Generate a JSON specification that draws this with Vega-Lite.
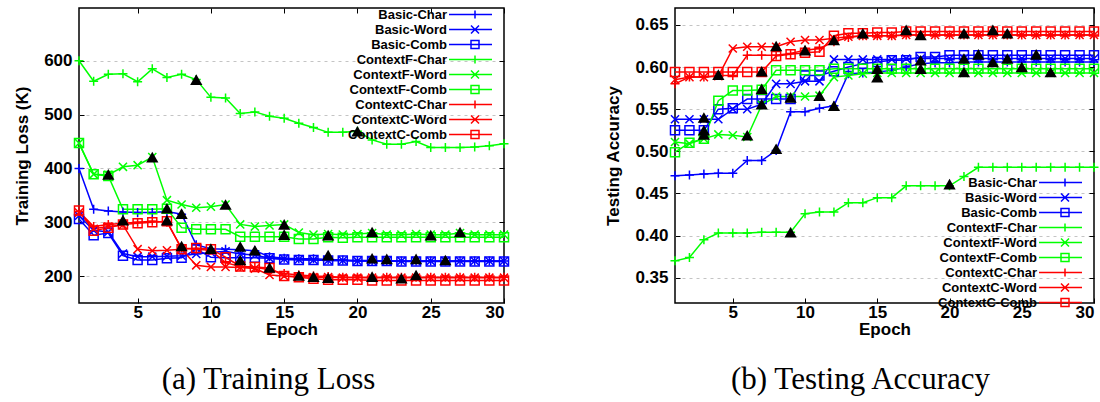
{
"$schema":"https://vega.github.io/schema/vega-lite/v6.json",
"background":"white",
"padding":{"left":12,"top":6,"right":0,"bottom":0},
"spacing":91,
"config":{
 "view":{"stroke":"black","strokeWidth":1.5},
 "axis":{"domain":false,"labelFont":"Liberation Sans","labelFontWeight":"bold","labelFontSize":17,"labelColor":"#000","titleFont":"Liberation Sans","titleFontWeight":"bold","titleFontSize":17,"titleColor":"#000","tickColor":"#000","tickWidth":1,"gridColor":"#c4c4c4","gridDash":[3,4],"gridWidth":1},
 "legend":{"title":null,"labelFont":"Liberation Sans","labelFontWeight":"bold","labelFontSize":13,"labelColor":"#000","symbolSize":100,"symbolStrokeWidth":1.5,"rowPadding":0,"labelLimit":300}
},
"datasets":{
"loss":[
{"s":"Basic-Char","m":"Char","e":1,"v":400},{"s":"Basic-Char","m":"Char","e":2,"v":324},{"s":"Basic-Char","m":"Char","e":3,"v":321},{"s":"Basic-Char","m":"Char","e":4,"v":319},{"s":"Basic-Char","m":"Char","e":5,"v":318},{"s":"Basic-Char","m":"Char","e":6,"v":318},{"s":"Basic-Char","m":"Char","e":7,"v":320},{"s":"Basic-Char","m":"Char","e":8,"v":315},{"s":"Basic-Char","m":"Char","e":9,"v":258},{"s":"Basic-Char","m":"Char","e":10,"v":251},{"s":"Basic-Char","m":"Char","e":11,"v":250},{"s":"Basic-Char","m":"Char","e":12,"v":249},{"s":"Basic-Char","m":"Char","e":13,"v":247},{"s":"Basic-Char","m":"Char","e":14,"v":236},{"s":"Basic-Char","m":"Char","e":15,"v":233},{"s":"Basic-Char","m":"Char","e":16,"v":232},{"s":"Basic-Char","m":"Char","e":17,"v":232},{"s":"Basic-Char","m":"Char","e":18,"v":231},{"s":"Basic-Char","m":"Char","e":19,"v":230},{"s":"Basic-Char","m":"Char","e":20,"v":229},{"s":"Basic-Char","m":"Char","e":21,"v":229},{"s":"Basic-Char","m":"Char","e":22,"v":228},{"s":"Basic-Char","m":"Char","e":23,"v":228},{"s":"Basic-Char","m":"Char","e":24,"v":228},{"s":"Basic-Char","m":"Char","e":25,"v":228},{"s":"Basic-Char","m":"Char","e":26,"v":228},{"s":"Basic-Char","m":"Char","e":27,"v":228},{"s":"Basic-Char","m":"Char","e":28,"v":228},{"s":"Basic-Char","m":"Char","e":29,"v":228},{"s":"Basic-Char","m":"Char","e":30,"v":228},
{"s":"Basic-Word","m":"Word","e":1,"v":312},{"s":"Basic-Word","m":"Word","e":2,"v":285},{"s":"Basic-Word","m":"Word","e":3,"v":282},{"s":"Basic-Word","m":"Word","e":4,"v":242},{"s":"Basic-Word","m":"Word","e":5,"v":236},{"s":"Basic-Word","m":"Word","e":6,"v":236},{"s":"Basic-Word","m":"Word","e":7,"v":237},{"s":"Basic-Word","m":"Word","e":8,"v":238},{"s":"Basic-Word","m":"Word","e":9,"v":241},{"s":"Basic-Word","m":"Word","e":10,"v":244},{"s":"Basic-Word","m":"Word","e":11,"v":246},{"s":"Basic-Word","m":"Word","e":12,"v":241},{"s":"Basic-Word","m":"Word","e":13,"v":239},{"s":"Basic-Word","m":"Word","e":14,"v":233},{"s":"Basic-Word","m":"Word","e":15,"v":232},{"s":"Basic-Word","m":"Word","e":16,"v":231},{"s":"Basic-Word","m":"Word","e":17,"v":230},{"s":"Basic-Word","m":"Word","e":18,"v":229},{"s":"Basic-Word","m":"Word","e":19,"v":229},{"s":"Basic-Word","m":"Word","e":20,"v":228},{"s":"Basic-Word","m":"Word","e":21,"v":228},{"s":"Basic-Word","m":"Word","e":22,"v":228},{"s":"Basic-Word","m":"Word","e":23,"v":228},{"s":"Basic-Word","m":"Word","e":24,"v":228},{"s":"Basic-Word","m":"Word","e":25,"v":228},{"s":"Basic-Word","m":"Word","e":26,"v":228},{"s":"Basic-Word","m":"Word","e":27,"v":228},{"s":"Basic-Word","m":"Word","e":28,"v":228},{"s":"Basic-Word","m":"Word","e":29,"v":228},{"s":"Basic-Word","m":"Word","e":30,"v":228},
{"s":"Basic-Comb","m":"Comb","e":1,"v":306},{"s":"Basic-Comb","m":"Comb","e":2,"v":276},{"s":"Basic-Comb","m":"Comb","e":3,"v":280},{"s":"Basic-Comb","m":"Comb","e":4,"v":238},{"s":"Basic-Comb","m":"Comb","e":5,"v":230},{"s":"Basic-Comb","m":"Comb","e":6,"v":230},{"s":"Basic-Comb","m":"Comb","e":7,"v":233},{"s":"Basic-Comb","m":"Comb","e":8,"v":234},{"s":"Basic-Comb","m":"Comb","e":9,"v":250},{"s":"Basic-Comb","m":"Comb","e":10,"v":235},{"s":"Basic-Comb","m":"Comb","e":11,"v":234},{"s":"Basic-Comb","m":"Comb","e":12,"v":234},{"s":"Basic-Comb","m":"Comb","e":13,"v":234},{"s":"Basic-Comb","m":"Comb","e":14,"v":233},{"s":"Basic-Comb","m":"Comb","e":15,"v":231},{"s":"Basic-Comb","m":"Comb","e":16,"v":230},{"s":"Basic-Comb","m":"Comb","e":17,"v":230},{"s":"Basic-Comb","m":"Comb","e":18,"v":229},{"s":"Basic-Comb","m":"Comb","e":19,"v":229},{"s":"Basic-Comb","m":"Comb","e":20,"v":228},{"s":"Basic-Comb","m":"Comb","e":21,"v":228},{"s":"Basic-Comb","m":"Comb","e":22,"v":228},{"s":"Basic-Comb","m":"Comb","e":23,"v":227},{"s":"Basic-Comb","m":"Comb","e":24,"v":227},{"s":"Basic-Comb","m":"Comb","e":25,"v":227},{"s":"Basic-Comb","m":"Comb","e":26,"v":227},{"s":"Basic-Comb","m":"Comb","e":27,"v":227},{"s":"Basic-Comb","m":"Comb","e":28,"v":227},{"s":"Basic-Comb","m":"Comb","e":29,"v":227},{"s":"Basic-Comb","m":"Comb","e":30,"v":227},
{"s":"ContextF-Char","m":"Char","e":1,"v":600},{"s":"ContextF-Char","m":"Char","e":2,"v":562},{"s":"ContextF-Char","m":"Char","e":3,"v":575},{"s":"ContextF-Char","m":"Char","e":4,"v":576},{"s":"ContextF-Char","m":"Char","e":5,"v":561},{"s":"ContextF-Char","m":"Char","e":6,"v":585},{"s":"ContextF-Char","m":"Char","e":7,"v":569},{"s":"ContextF-Char","m":"Char","e":8,"v":575},{"s":"ContextF-Char","m":"Char","e":9,"v":565},{"s":"ContextF-Char","m":"Char","e":10,"v":532},{"s":"ContextF-Char","m":"Char","e":11,"v":531},{"s":"ContextF-Char","m":"Char","e":12,"v":502},{"s":"ContextF-Char","m":"Char","e":13,"v":505},{"s":"ContextF-Char","m":"Char","e":14,"v":497},{"s":"ContextF-Char","m":"Char","e":15,"v":493},{"s":"ContextF-Char","m":"Char","e":16,"v":484},{"s":"ContextF-Char","m":"Char","e":17,"v":476},{"s":"ContextF-Char","m":"Char","e":18,"v":467},{"s":"ContextF-Char","m":"Char","e":19,"v":467},{"s":"ContextF-Char","m":"Char","e":20,"v":469},{"s":"ContextF-Char","m":"Char","e":21,"v":453},{"s":"ContextF-Char","m":"Char","e":22,"v":445},{"s":"ContextF-Char","m":"Char","e":23,"v":445},{"s":"ContextF-Char","m":"Char","e":24,"v":450},{"s":"ContextF-Char","m":"Char","e":25,"v":439},{"s":"ContextF-Char","m":"Char","e":26,"v":439},{"s":"ContextF-Char","m":"Char","e":27,"v":439},{"s":"ContextF-Char","m":"Char","e":28,"v":440},{"s":"ContextF-Char","m":"Char","e":29,"v":442},{"s":"ContextF-Char","m":"Char","e":30,"v":446},
{"s":"ContextF-Word","m":"Word","e":1,"v":447},{"s":"ContextF-Word","m":"Word","e":2,"v":389},{"s":"ContextF-Word","m":"Word","e":3,"v":388},{"s":"ContextF-Word","m":"Word","e":4,"v":403},{"s":"ContextF-Word","m":"Word","e":5,"v":406},{"s":"ContextF-Word","m":"Word","e":6,"v":421},{"s":"ContextF-Word","m":"Word","e":7,"v":341},{"s":"ContextF-Word","m":"Word","e":8,"v":333},{"s":"ContextF-Word","m":"Word","e":9,"v":327},{"s":"ContextF-Word","m":"Word","e":10,"v":329},{"s":"ContextF-Word","m":"Word","e":11,"v":333},{"s":"ContextF-Word","m":"Word","e":12,"v":296},{"s":"ContextF-Word","m":"Word","e":13,"v":292},{"s":"ContextF-Word","m":"Word","e":14,"v":294},{"s":"ContextF-Word","m":"Word","e":15,"v":296},{"s":"ContextF-Word","m":"Word","e":16,"v":281},{"s":"ContextF-Word","m":"Word","e":17,"v":277},{"s":"ContextF-Word","m":"Word","e":18,"v":278},{"s":"ContextF-Word","m":"Word","e":19,"v":277},{"s":"ContextF-Word","m":"Word","e":20,"v":278},{"s":"ContextF-Word","m":"Word","e":21,"v":280},{"s":"ContextF-Word","m":"Word","e":22,"v":277},{"s":"ContextF-Word","m":"Word","e":23,"v":277},{"s":"ContextF-Word","m":"Word","e":24,"v":278},{"s":"ContextF-Word","m":"Word","e":25,"v":277},{"s":"ContextF-Word","m":"Word","e":26,"v":277},{"s":"ContextF-Word","m":"Word","e":27,"v":280},{"s":"ContextF-Word","m":"Word","e":28,"v":277},{"s":"ContextF-Word","m":"Word","e":29,"v":277},{"s":"ContextF-Word","m":"Word","e":30,"v":277},
{"s":"ContextF-Comb","m":"Comb","e":1,"v":447},{"s":"ContextF-Comb","m":"Comb","e":2,"v":389},{"s":"ContextF-Comb","m":"Comb","e":3,"v":386},{"s":"ContextF-Comb","m":"Comb","e":4,"v":324},{"s":"ContextF-Comb","m":"Comb","e":5,"v":324},{"s":"ContextF-Comb","m":"Comb","e":6,"v":324},{"s":"ContextF-Comb","m":"Comb","e":7,"v":325},{"s":"ContextF-Comb","m":"Comb","e":8,"v":290},{"s":"ContextF-Comb","m":"Comb","e":9,"v":287},{"s":"ContextF-Comb","m":"Comb","e":10,"v":287},{"s":"ContextF-Comb","m":"Comb","e":11,"v":287},{"s":"ContextF-Comb","m":"Comb","e":12,"v":273},{"s":"ContextF-Comb","m":"Comb","e":13,"v":273},{"s":"ContextF-Comb","m":"Comb","e":14,"v":273},{"s":"ContextF-Comb","m":"Comb","e":15,"v":273},{"s":"ContextF-Comb","m":"Comb","e":16,"v":269},{"s":"ContextF-Comb","m":"Comb","e":17,"v":269},{"s":"ContextF-Comb","m":"Comb","e":18,"v":272},{"s":"ContextF-Comb","m":"Comb","e":19,"v":271},{"s":"ContextF-Comb","m":"Comb","e":20,"v":272},{"s":"ContextF-Comb","m":"Comb","e":21,"v":272},{"s":"ContextF-Comb","m":"Comb","e":22,"v":272},{"s":"ContextF-Comb","m":"Comb","e":23,"v":272},{"s":"ContextF-Comb","m":"Comb","e":24,"v":272},{"s":"ContextF-Comb","m":"Comb","e":25,"v":272},{"s":"ContextF-Comb","m":"Comb","e":26,"v":272},{"s":"ContextF-Comb","m":"Comb","e":27,"v":272},{"s":"ContextF-Comb","m":"Comb","e":28,"v":272},{"s":"ContextF-Comb","m":"Comb","e":29,"v":272},{"s":"ContextF-Comb","m":"Comb","e":30,"v":272},
{"s":"ContextC-Char","m":"Char","e":1,"v":320},{"s":"ContextC-Char","m":"Char","e":2,"v":292},{"s":"ContextC-Char","m":"Char","e":3,"v":296},{"s":"ContextC-Char","m":"Char","e":4,"v":298},{"s":"ContextC-Char","m":"Char","e":5,"v":300},{"s":"ContextC-Char","m":"Char","e":6,"v":302},{"s":"ContextC-Char","m":"Char","e":7,"v":300},{"s":"ContextC-Char","m":"Char","e":8,"v":252},{"s":"ContextC-Char","m":"Char","e":9,"v":250},{"s":"ContextC-Char","m":"Char","e":10,"v":248},{"s":"ContextC-Char","m":"Char","e":11,"v":225},{"s":"ContextC-Char","m":"Char","e":12,"v":218},{"s":"ContextC-Char","m":"Char","e":13,"v":216},{"s":"ContextC-Char","m":"Char","e":14,"v":212},{"s":"ContextC-Char","m":"Char","e":15,"v":205},{"s":"ContextC-Char","m":"Char","e":16,"v":202},{"s":"ContextC-Char","m":"Char","e":17,"v":200},{"s":"ContextC-Char","m":"Char","e":18,"v":199},{"s":"ContextC-Char","m":"Char","e":19,"v":198},{"s":"ContextC-Char","m":"Char","e":20,"v":198},{"s":"ContextC-Char","m":"Char","e":21,"v":198},{"s":"ContextC-Char","m":"Char","e":22,"v":198},{"s":"ContextC-Char","m":"Char","e":23,"v":198},{"s":"ContextC-Char","m":"Char","e":24,"v":198},{"s":"ContextC-Char","m":"Char","e":25,"v":198},{"s":"ContextC-Char","m":"Char","e":26,"v":198},{"s":"ContextC-Char","m":"Char","e":27,"v":198},{"s":"ContextC-Char","m":"Char","e":28,"v":198},{"s":"ContextC-Char","m":"Char","e":29,"v":198},{"s":"ContextC-Char","m":"Char","e":30,"v":198},
{"s":"ContextC-Word","m":"Word","e":1,"v":318},{"s":"ContextC-Word","m":"Word","e":2,"v":288},{"s":"ContextC-Word","m":"Word","e":3,"v":292},{"s":"ContextC-Word","m":"Word","e":4,"v":295},{"s":"ContextC-Word","m":"Word","e":5,"v":250},{"s":"ContextC-Word","m":"Word","e":6,"v":247},{"s":"ContextC-Word","m":"Word","e":7,"v":248},{"s":"ContextC-Word","m":"Word","e":8,"v":250},{"s":"ContextC-Word","m":"Word","e":9,"v":220},{"s":"ContextC-Word","m":"Word","e":10,"v":217},{"s":"ContextC-Word","m":"Word","e":11,"v":217},{"s":"ContextC-Word","m":"Word","e":12,"v":216},{"s":"ContextC-Word","m":"Word","e":13,"v":214},{"s":"ContextC-Word","m":"Word","e":14,"v":202},{"s":"ContextC-Word","m":"Word","e":15,"v":200},{"s":"ContextC-Word","m":"Word","e":16,"v":199},{"s":"ContextC-Word","m":"Word","e":17,"v":198},{"s":"ContextC-Word","m":"Word","e":18,"v":198},{"s":"ContextC-Word","m":"Word","e":19,"v":197},{"s":"ContextC-Word","m":"Word","e":20,"v":197},{"s":"ContextC-Word","m":"Word","e":21,"v":197},{"s":"ContextC-Word","m":"Word","e":22,"v":197},{"s":"ContextC-Word","m":"Word","e":23,"v":197},{"s":"ContextC-Word","m":"Word","e":24,"v":197},{"s":"ContextC-Word","m":"Word","e":25,"v":197},{"s":"ContextC-Word","m":"Word","e":26,"v":197},{"s":"ContextC-Word","m":"Word","e":27,"v":197},{"s":"ContextC-Word","m":"Word","e":28,"v":197},{"s":"ContextC-Word","m":"Word","e":29,"v":197},{"s":"ContextC-Word","m":"Word","e":30,"v":197},
{"s":"ContextC-Comb","m":"Comb","e":1,"v":322},{"s":"ContextC-Comb","m":"Comb","e":2,"v":284},{"s":"ContextC-Comb","m":"Comb","e":3,"v":290},{"s":"ContextC-Comb","m":"Comb","e":4,"v":296},{"s":"ContextC-Comb","m":"Comb","e":5,"v":298},{"s":"ContextC-Comb","m":"Comb","e":6,"v":300},{"s":"ContextC-Comb","m":"Comb","e":7,"v":302},{"s":"ContextC-Comb","m":"Comb","e":8,"v":250},{"s":"ContextC-Comb","m":"Comb","e":9,"v":252},{"s":"ContextC-Comb","m":"Comb","e":10,"v":250},{"s":"ContextC-Comb","m":"Comb","e":11,"v":235},{"s":"ContextC-Comb","m":"Comb","e":12,"v":218},{"s":"ContextC-Comb","m":"Comb","e":13,"v":217},{"s":"ContextC-Comb","m":"Comb","e":14,"v":215},{"s":"ContextC-Comb","m":"Comb","e":15,"v":200},{"s":"ContextC-Comb","m":"Comb","e":16,"v":198},{"s":"ContextC-Comb","m":"Comb","e":17,"v":195},{"s":"ContextC-Comb","m":"Comb","e":18,"v":193},{"s":"ContextC-Comb","m":"Comb","e":19,"v":193},{"s":"ContextC-Comb","m":"Comb","e":20,"v":193},{"s":"ContextC-Comb","m":"Comb","e":21,"v":192},{"s":"ContextC-Comb","m":"Comb","e":22,"v":192},{"s":"ContextC-Comb","m":"Comb","e":23,"v":192},{"s":"ContextC-Comb","m":"Comb","e":24,"v":192},{"s":"ContextC-Comb","m":"Comb","e":25,"v":192},{"s":"ContextC-Comb","m":"Comb","e":26,"v":192},{"s":"ContextC-Comb","m":"Comb","e":27,"v":192},{"s":"ContextC-Comb","m":"Comb","e":28,"v":192},{"s":"ContextC-Comb","m":"Comb","e":29,"v":192},{"s":"ContextC-Comb","m":"Comb","e":30,"v":192}
],
"acc":[
{"s":"Basic-Char","m":"Char","e":1,"v":0.471},{"s":"Basic-Char","m":"Char","e":2,"v":0.472},{"s":"Basic-Char","m":"Char","e":3,"v":0.473},{"s":"Basic-Char","m":"Char","e":4,"v":0.474},{"s":"Basic-Char","m":"Char","e":5,"v":0.474},{"s":"Basic-Char","m":"Char","e":6,"v":0.489},{"s":"Basic-Char","m":"Char","e":7,"v":0.489},{"s":"Basic-Char","m":"Char","e":8,"v":0.501},{"s":"Basic-Char","m":"Char","e":9,"v":0.547},{"s":"Basic-Char","m":"Char","e":10,"v":0.547},{"s":"Basic-Char","m":"Char","e":11,"v":0.551},{"s":"Basic-Char","m":"Char","e":12,"v":0.554},{"s":"Basic-Char","m":"Char","e":13,"v":0.592},{"s":"Basic-Char","m":"Char","e":14,"v":0.593},{"s":"Basic-Char","m":"Char","e":15,"v":0.594},{"s":"Basic-Char","m":"Char","e":16,"v":0.596},{"s":"Basic-Char","m":"Char","e":17,"v":0.6},{"s":"Basic-Char","m":"Char","e":18,"v":0.604},{"s":"Basic-Char","m":"Char","e":19,"v":0.605},{"s":"Basic-Char","m":"Char","e":20,"v":0.605},{"s":"Basic-Char","m":"Char","e":21,"v":0.606},{"s":"Basic-Char","m":"Char","e":22,"v":0.606},{"s":"Basic-Char","m":"Char","e":23,"v":0.606},{"s":"Basic-Char","m":"Char","e":24,"v":0.606},{"s":"Basic-Char","m":"Char","e":25,"v":0.606},{"s":"Basic-Char","m":"Char","e":26,"v":0.606},{"s":"Basic-Char","m":"Char","e":27,"v":0.606},{"s":"Basic-Char","m":"Char","e":28,"v":0.606},{"s":"Basic-Char","m":"Char","e":29,"v":0.606},{"s":"Basic-Char","m":"Char","e":30,"v":0.606},
{"s":"Basic-Word","m":"Word","e":1,"v":0.538},{"s":"Basic-Word","m":"Word","e":2,"v":0.538},{"s":"Basic-Word","m":"Word","e":3,"v":0.538},{"s":"Basic-Word","m":"Word","e":4,"v":0.538},{"s":"Basic-Word","m":"Word","e":5,"v":0.55},{"s":"Basic-Word","m":"Word","e":6,"v":0.55},{"s":"Basic-Word","m":"Word","e":7,"v":0.556},{"s":"Basic-Word","m":"Word","e":8,"v":0.58},{"s":"Basic-Word","m":"Word","e":9,"v":0.58},{"s":"Basic-Word","m":"Word","e":10,"v":0.583},{"s":"Basic-Word","m":"Word","e":11,"v":0.583},{"s":"Basic-Word","m":"Word","e":12,"v":0.609},{"s":"Basic-Word","m":"Word","e":13,"v":0.609},{"s":"Basic-Word","m":"Word","e":14,"v":0.609},{"s":"Basic-Word","m":"Word","e":15,"v":0.609},{"s":"Basic-Word","m":"Word","e":16,"v":0.609},{"s":"Basic-Word","m":"Word","e":17,"v":0.61},{"s":"Basic-Word","m":"Word","e":18,"v":0.61},{"s":"Basic-Word","m":"Word","e":19,"v":0.61},{"s":"Basic-Word","m":"Word","e":20,"v":0.61},{"s":"Basic-Word","m":"Word","e":21,"v":0.61},{"s":"Basic-Word","m":"Word","e":22,"v":0.61},{"s":"Basic-Word","m":"Word","e":23,"v":0.61},{"s":"Basic-Word","m":"Word","e":24,"v":0.61},{"s":"Basic-Word","m":"Word","e":25,"v":0.61},{"s":"Basic-Word","m":"Word","e":26,"v":0.61},{"s":"Basic-Word","m":"Word","e":27,"v":0.61},{"s":"Basic-Word","m":"Word","e":28,"v":0.61},{"s":"Basic-Word","m":"Word","e":29,"v":0.61},{"s":"Basic-Word","m":"Word","e":30,"v":0.61},
{"s":"Basic-Comb","m":"Comb","e":1,"v":0.525},{"s":"Basic-Comb","m":"Comb","e":2,"v":0.525},{"s":"Basic-Comb","m":"Comb","e":3,"v":0.525},{"s":"Basic-Comb","m":"Comb","e":4,"v":0.55},{"s":"Basic-Comb","m":"Comb","e":5,"v":0.551},{"s":"Basic-Comb","m":"Comb","e":6,"v":0.562},{"s":"Basic-Comb","m":"Comb","e":7,"v":0.562},{"s":"Basic-Comb","m":"Comb","e":8,"v":0.562},{"s":"Basic-Comb","m":"Comb","e":9,"v":0.562},{"s":"Basic-Comb","m":"Comb","e":10,"v":0.59},{"s":"Basic-Comb","m":"Comb","e":11,"v":0.59},{"s":"Basic-Comb","m":"Comb","e":12,"v":0.595},{"s":"Basic-Comb","m":"Comb","e":13,"v":0.6},{"s":"Basic-Comb","m":"Comb","e":14,"v":0.604},{"s":"Basic-Comb","m":"Comb","e":15,"v":0.606},{"s":"Basic-Comb","m":"Comb","e":16,"v":0.608},{"s":"Basic-Comb","m":"Comb","e":17,"v":0.608},{"s":"Basic-Comb","m":"Comb","e":18,"v":0.612},{"s":"Basic-Comb","m":"Comb","e":19,"v":0.612},{"s":"Basic-Comb","m":"Comb","e":20,"v":0.614},{"s":"Basic-Comb","m":"Comb","e":21,"v":0.614},{"s":"Basic-Comb","m":"Comb","e":22,"v":0.614},{"s":"Basic-Comb","m":"Comb","e":23,"v":0.614},{"s":"Basic-Comb","m":"Comb","e":24,"v":0.614},{"s":"Basic-Comb","m":"Comb","e":25,"v":0.614},{"s":"Basic-Comb","m":"Comb","e":26,"v":0.614},{"s":"Basic-Comb","m":"Comb","e":27,"v":0.614},{"s":"Basic-Comb","m":"Comb","e":28,"v":0.614},{"s":"Basic-Comb","m":"Comb","e":29,"v":0.614},{"s":"Basic-Comb","m":"Comb","e":30,"v":0.614},
{"s":"ContextF-Char","m":"Char","e":1,"v":0.37},{"s":"ContextF-Char","m":"Char","e":2,"v":0.374},{"s":"ContextF-Char","m":"Char","e":3,"v":0.395},{"s":"ContextF-Char","m":"Char","e":4,"v":0.403},{"s":"ContextF-Char","m":"Char","e":5,"v":0.403},{"s":"ContextF-Char","m":"Char","e":6,"v":0.403},{"s":"ContextF-Char","m":"Char","e":7,"v":0.404},{"s":"ContextF-Char","m":"Char","e":8,"v":0.404},{"s":"ContextF-Char","m":"Char","e":9,"v":0.404},{"s":"ContextF-Char","m":"Char","e":10,"v":0.426},{"s":"ContextF-Char","m":"Char","e":11,"v":0.428},{"s":"ContextF-Char","m":"Char","e":12,"v":0.428},{"s":"ContextF-Char","m":"Char","e":13,"v":0.439},{"s":"ContextF-Char","m":"Char","e":14,"v":0.439},{"s":"ContextF-Char","m":"Char","e":15,"v":0.445},{"s":"ContextF-Char","m":"Char","e":16,"v":0.445},{"s":"ContextF-Char","m":"Char","e":17,"v":0.459},{"s":"ContextF-Char","m":"Char","e":18,"v":0.459},{"s":"ContextF-Char","m":"Char","e":19,"v":0.459},{"s":"ContextF-Char","m":"Char","e":20,"v":0.459},{"s":"ContextF-Char","m":"Char","e":21,"v":0.47},{"s":"ContextF-Char","m":"Char","e":22,"v":0.481},{"s":"ContextF-Char","m":"Char","e":23,"v":0.481},{"s":"ContextF-Char","m":"Char","e":24,"v":0.481},{"s":"ContextF-Char","m":"Char","e":25,"v":0.481},{"s":"ContextF-Char","m":"Char","e":26,"v":0.481},{"s":"ContextF-Char","m":"Char","e":27,"v":0.481},{"s":"ContextF-Char","m":"Char","e":28,"v":0.481},{"s":"ContextF-Char","m":"Char","e":29,"v":0.481},{"s":"ContextF-Char","m":"Char","e":30,"v":0.481},
{"s":"ContextF-Word","m":"Word","e":1,"v":0.511},{"s":"ContextF-Word","m":"Word","e":2,"v":0.509},{"s":"ContextF-Word","m":"Word","e":3,"v":0.515},{"s":"ContextF-Word","m":"Word","e":4,"v":0.52},{"s":"ContextF-Word","m":"Word","e":5,"v":0.519},{"s":"ContextF-Word","m":"Word","e":6,"v":0.517},{"s":"ContextF-Word","m":"Word","e":7,"v":0.555},{"s":"ContextF-Word","m":"Word","e":8,"v":0.565},{"s":"ContextF-Word","m":"Word","e":9,"v":0.565},{"s":"ContextF-Word","m":"Word","e":10,"v":0.565},{"s":"ContextF-Word","m":"Word","e":11,"v":0.566},{"s":"ContextF-Word","m":"Word","e":12,"v":0.588},{"s":"ContextF-Word","m":"Word","e":13,"v":0.59},{"s":"ContextF-Word","m":"Word","e":14,"v":0.592},{"s":"ContextF-Word","m":"Word","e":15,"v":0.593},{"s":"ContextF-Word","m":"Word","e":16,"v":0.593},{"s":"ContextF-Word","m":"Word","e":17,"v":0.593},{"s":"ContextF-Word","m":"Word","e":18,"v":0.593},{"s":"ContextF-Word","m":"Word","e":19,"v":0.593},{"s":"ContextF-Word","m":"Word","e":20,"v":0.593},{"s":"ContextF-Word","m":"Word","e":21,"v":0.593},{"s":"ContextF-Word","m":"Word","e":22,"v":0.593},{"s":"ContextF-Word","m":"Word","e":23,"v":0.593},{"s":"ContextF-Word","m":"Word","e":24,"v":0.593},{"s":"ContextF-Word","m":"Word","e":25,"v":0.593},{"s":"ContextF-Word","m":"Word","e":26,"v":0.593},{"s":"ContextF-Word","m":"Word","e":27,"v":0.593},{"s":"ContextF-Word","m":"Word","e":28,"v":0.593},{"s":"ContextF-Word","m":"Word","e":29,"v":0.593},{"s":"ContextF-Word","m":"Word","e":30,"v":0.593},
{"s":"ContextF-Comb","m":"Comb","e":1,"v":0.499},{"s":"ContextF-Comb","m":"Comb","e":2,"v":0.51},{"s":"ContextF-Comb","m":"Comb","e":3,"v":0.515},{"s":"ContextF-Comb","m":"Comb","e":4,"v":0.56},{"s":"ContextF-Comb","m":"Comb","e":5,"v":0.572},{"s":"ContextF-Comb","m":"Comb","e":6,"v":0.572},{"s":"ContextF-Comb","m":"Comb","e":7,"v":0.573},{"s":"ContextF-Comb","m":"Comb","e":8,"v":0.596},{"s":"ContextF-Comb","m":"Comb","e":9,"v":0.596},{"s":"ContextF-Comb","m":"Comb","e":10,"v":0.596},{"s":"ContextF-Comb","m":"Comb","e":11,"v":0.596},{"s":"ContextF-Comb","m":"Comb","e":12,"v":0.598},{"s":"ContextF-Comb","m":"Comb","e":13,"v":0.598},{"s":"ContextF-Comb","m":"Comb","e":14,"v":0.598},{"s":"ContextF-Comb","m":"Comb","e":15,"v":0.598},{"s":"ContextF-Comb","m":"Comb","e":16,"v":0.598},{"s":"ContextF-Comb","m":"Comb","e":17,"v":0.598},{"s":"ContextF-Comb","m":"Comb","e":18,"v":0.598},{"s":"ContextF-Comb","m":"Comb","e":19,"v":0.598},{"s":"ContextF-Comb","m":"Comb","e":20,"v":0.598},{"s":"ContextF-Comb","m":"Comb","e":21,"v":0.598},{"s":"ContextF-Comb","m":"Comb","e":22,"v":0.598},{"s":"ContextF-Comb","m":"Comb","e":23,"v":0.598},{"s":"ContextF-Comb","m":"Comb","e":24,"v":0.598},{"s":"ContextF-Comb","m":"Comb","e":25,"v":0.598},{"s":"ContextF-Comb","m":"Comb","e":26,"v":0.598},{"s":"ContextF-Comb","m":"Comb","e":27,"v":0.598},{"s":"ContextF-Comb","m":"Comb","e":28,"v":0.598},{"s":"ContextF-Comb","m":"Comb","e":29,"v":0.598},{"s":"ContextF-Comb","m":"Comb","e":30,"v":0.598},
{"s":"ContextC-Char","m":"Char","e":1,"v":0.58},{"s":"ContextC-Char","m":"Char","e":2,"v":0.588},{"s":"ContextC-Char","m":"Char","e":3,"v":0.588},{"s":"ContextC-Char","m":"Char","e":4,"v":0.59},{"s":"ContextC-Char","m":"Char","e":5,"v":0.59},{"s":"ContextC-Char","m":"Char","e":6,"v":0.614},{"s":"ContextC-Char","m":"Char","e":7,"v":0.614},{"s":"ContextC-Char","m":"Char","e":8,"v":0.614},{"s":"ContextC-Char","m":"Char","e":9,"v":0.616},{"s":"ContextC-Char","m":"Char","e":10,"v":0.62},{"s":"ContextC-Char","m":"Char","e":11,"v":0.622},{"s":"ContextC-Char","m":"Char","e":12,"v":0.63},{"s":"ContextC-Char","m":"Char","e":13,"v":0.635},{"s":"ContextC-Char","m":"Char","e":14,"v":0.637},{"s":"ContextC-Char","m":"Char","e":15,"v":0.637},{"s":"ContextC-Char","m":"Char","e":16,"v":0.637},{"s":"ContextC-Char","m":"Char","e":17,"v":0.638},{"s":"ContextC-Char","m":"Char","e":18,"v":0.638},{"s":"ContextC-Char","m":"Char","e":19,"v":0.638},{"s":"ContextC-Char","m":"Char","e":20,"v":0.638},{"s":"ContextC-Char","m":"Char","e":21,"v":0.638},{"s":"ContextC-Char","m":"Char","e":22,"v":0.638},{"s":"ContextC-Char","m":"Char","e":23,"v":0.638},{"s":"ContextC-Char","m":"Char","e":24,"v":0.638},{"s":"ContextC-Char","m":"Char","e":25,"v":0.638},{"s":"ContextC-Char","m":"Char","e":26,"v":0.638},{"s":"ContextC-Char","m":"Char","e":27,"v":0.638},{"s":"ContextC-Char","m":"Char","e":28,"v":0.638},{"s":"ContextC-Char","m":"Char","e":29,"v":0.638},{"s":"ContextC-Char","m":"Char","e":30,"v":0.638},
{"s":"ContextC-Word","m":"Word","e":1,"v":0.585},{"s":"ContextC-Word","m":"Word","e":2,"v":0.588},{"s":"ContextC-Word","m":"Word","e":3,"v":0.588},{"s":"ContextC-Word","m":"Word","e":4,"v":0.589},{"s":"ContextC-Word","m":"Word","e":5,"v":0.622},{"s":"ContextC-Word","m":"Word","e":6,"v":0.624},{"s":"ContextC-Word","m":"Word","e":7,"v":0.624},{"s":"ContextC-Word","m":"Word","e":8,"v":0.624},{"s":"ContextC-Word","m":"Word","e":9,"v":0.63},{"s":"ContextC-Word","m":"Word","e":10,"v":0.632},{"s":"ContextC-Word","m":"Word","e":11,"v":0.632},{"s":"ContextC-Word","m":"Word","e":12,"v":0.634},{"s":"ContextC-Word","m":"Word","e":13,"v":0.636},{"s":"ContextC-Word","m":"Word","e":14,"v":0.637},{"s":"ContextC-Word","m":"Word","e":15,"v":0.637},{"s":"ContextC-Word","m":"Word","e":16,"v":0.637},{"s":"ContextC-Word","m":"Word","e":17,"v":0.638},{"s":"ContextC-Word","m":"Word","e":18,"v":0.638},{"s":"ContextC-Word","m":"Word","e":19,"v":0.638},{"s":"ContextC-Word","m":"Word","e":20,"v":0.638},{"s":"ContextC-Word","m":"Word","e":21,"v":0.638},{"s":"ContextC-Word","m":"Word","e":22,"v":0.638},{"s":"ContextC-Word","m":"Word","e":23,"v":0.638},{"s":"ContextC-Word","m":"Word","e":24,"v":0.638},{"s":"ContextC-Word","m":"Word","e":25,"v":0.638},{"s":"ContextC-Word","m":"Word","e":26,"v":0.638},{"s":"ContextC-Word","m":"Word","e":27,"v":0.638},{"s":"ContextC-Word","m":"Word","e":28,"v":0.638},{"s":"ContextC-Word","m":"Word","e":29,"v":0.638},{"s":"ContextC-Word","m":"Word","e":30,"v":0.638},
{"s":"ContextC-Comb","m":"Comb","e":1,"v":0.594},{"s":"ContextC-Comb","m":"Comb","e":2,"v":0.594},{"s":"ContextC-Comb","m":"Comb","e":3,"v":0.594},{"s":"ContextC-Comb","m":"Comb","e":4,"v":0.594},{"s":"ContextC-Comb","m":"Comb","e":5,"v":0.594},{"s":"ContextC-Comb","m":"Comb","e":6,"v":0.594},{"s":"ContextC-Comb","m":"Comb","e":7,"v":0.594},{"s":"ContextC-Comb","m":"Comb","e":8,"v":0.613},{"s":"ContextC-Comb","m":"Comb","e":9,"v":0.615},{"s":"ContextC-Comb","m":"Comb","e":10,"v":0.617},{"s":"ContextC-Comb","m":"Comb","e":11,"v":0.618},{"s":"ContextC-Comb","m":"Comb","e":12,"v":0.637},{"s":"ContextC-Comb","m":"Comb","e":13,"v":0.64},{"s":"ContextC-Comb","m":"Comb","e":14,"v":0.64},{"s":"ContextC-Comb","m":"Comb","e":15,"v":0.641},{"s":"ContextC-Comb","m":"Comb","e":16,"v":0.641},{"s":"ContextC-Comb","m":"Comb","e":17,"v":0.642},{"s":"ContextC-Comb","m":"Comb","e":18,"v":0.642},{"s":"ContextC-Comb","m":"Comb","e":19,"v":0.642},{"s":"ContextC-Comb","m":"Comb","e":20,"v":0.642},{"s":"ContextC-Comb","m":"Comb","e":21,"v":0.642},{"s":"ContextC-Comb","m":"Comb","e":22,"v":0.642},{"s":"ContextC-Comb","m":"Comb","e":23,"v":0.642},{"s":"ContextC-Comb","m":"Comb","e":24,"v":0.642},{"s":"ContextC-Comb","m":"Comb","e":25,"v":0.642},{"s":"ContextC-Comb","m":"Comb","e":26,"v":0.642},{"s":"ContextC-Comb","m":"Comb","e":27,"v":0.642},{"s":"ContextC-Comb","m":"Comb","e":28,"v":0.642},{"s":"ContextC-Comb","m":"Comb","e":29,"v":0.642},{"s":"ContextC-Comb","m":"Comb","e":30,"v":0.642}
],
"triL":[
{"e":3,"v":389},{"e":4,"v":304},{"e":6,"v":421},{"e":7,"v":326},{"e":7,"v":304},{"e":8,"v":316},{"e":8,"v":256},{"e":9,"v":565},{"e":10,"v":251},{"e":11,"v":333},{"e":12,"v":255},{"e":12,"v":230},{"e":13,"v":248},{"e":14,"v":216},{"e":15,"v":296},{"e":15,"v":277},{"e":16,"v":201},{"e":17,"v":199},{"e":18,"v":276},{"e":18,"v":239},{"e":18,"v":197},{"e":20,"v":469},{"e":21,"v":282},{"e":21,"v":233},{"e":21,"v":199},{"e":22,"v":232},{"e":23,"v":196},{"e":24,"v":232},{"e":24,"v":202},{"e":25,"v":276},{"e":26,"v":230},{"e":27,"v":282}
],
"triA":[
{"e":3,"v":0.54},{"e":3,"v":0.525},{"e":3,"v":0.52},{"e":4,"v":0.591},{"e":6,"v":0.519},{"e":7,"v":0.574},{"e":7,"v":0.556},{"e":7,"v":0.595},{"e":8,"v":0.503},{"e":8,"v":0.625},{"e":9,"v":0.564},{"e":9,"v":0.404},{"e":10,"v":0.62},{"e":11,"v":0.566},{"e":12,"v":0.554},{"e":12,"v":0.632},{"e":14,"v":0.64},{"e":15,"v":0.598},{"e":15,"v":0.588},{"e":17,"v":0.644},{"e":18,"v":0.638},{"e":18,"v":0.608},{"e":18,"v":0.598},{"e":20,"v":0.461},{"e":21,"v":0.64},{"e":21,"v":0.61},{"e":21,"v":0.594},{"e":22,"v":0.615},{"e":23,"v":0.644},{"e":23,"v":0.606},{"e":24,"v":0.64},{"e":24,"v":0.61},{"e":25,"v":0.6},{"e":26,"v":0.615},{"e":27,"v":0.594}
]
},
"resolve":{"scale":{"color":"independent","stroke":"independent","shape":"independent"},"legend":{"color":"independent"}},
"hconcat":[
{
 "width":425,"height":295,
 "title":{"text":"(a) Training Loss","orient":"bottom","anchor":"middle","dx":-23,"offset":28,"font":"Liberation Serif","fontSize":31,"fontWeight":"normal","color":"#000"},
 "layer":[
  {"data":{"name":"loss"},"mark":{"type":"line","strokeWidth":1.5},
   "encoding":{
    "x":{"field":"e","type":"quantitative","scale":{"domain":[1,30],"nice":false,"zero":false},"axis":{"orient":"bottom","values":[5,10,15,20,25,30],"title":"Epoch","grid":false,"tickSize":-5,"labelPadding":6,"titlePadding":1}},
    "y":{"field":"v","type":"quantitative","scale":{"domain":[150,698],"nice":false,"zero":false},"axis":{"orient":"left","values":[200,300,400,500,600],"title":"Training Loss (K)","grid":true,"tickSize":-5,"labelPadding":12,"titlePadding":12}},
    "color":{"field":"s","type":"nominal","scale":{"domain":["Basic-Char","Basic-Word","Basic-Comb","ContextF-Char","ContextF-Word","ContextF-Comb","ContextC-Char","ContextC-Word","ContextC-Comb"],"range":["#0000ff","#0000ff","#0000ff","#00ff00","#00ff00","#00ff00","#ff0000","#ff0000","#ff0000"]},
     "legend":{"orient":"none","legendX":385,"legendY":0,
      "encode":{"symbols":{"update":{"shape":{"signal":"indexof(datum.value,'Char')>=0 ? 'M-4.3,0H4.3M0.9,-0.8V0.8' : indexof(datum.value,'Word')>=0 ? 'M-4.3,0H4.3M0.1,-0.8L1.7,0.8M0.1,0.8L1.7,-0.8' : 'M-4.3,0H4.3M0.1,-0.8H1.7V0.8H0.1Z'"},"fill":{"value":"transparent"}}},
       "labels":{"update":{"x":{"value":-17},"align":{"value":"right"}}}}}}
   }},
  {"data":{"name":"loss"},"mark":{"type":"point","filled":false,"strokeWidth":1.5,"size":81,"opacity":1},
   "encoding":{
    "x":{"field":"e","type":"quantitative","scale":{"domain":[1,30],"nice":false,"zero":false},"axis":{"orient":"top","values":[5,10,15,20,25,30],"labels":false,"title":null,"grid":false,"tickSize":-5}},
    "y":{"field":"v","type":"quantitative","scale":{"domain":[150,698],"nice":false,"zero":false},"axis":{"orient":"right","values":[200,300,400,500,600],"labels":false,"title":null,"grid":false,"tickSize":-5}},
    "shape":{"field":"m","type":"nominal","scale":{"domain":["Char","Word","Comb"],"range":["M-1,0H1M0,-1V1","M-0.9,-0.9L0.9,0.9M-0.9,0.9L0.9,-0.9","M-1,-1H1V1H-1Z"]},"legend":null},
    "stroke":{"field":"s","type":"nominal","scale":{"domain":["Basic-Char","Basic-Word","Basic-Comb","ContextF-Char","ContextF-Word","ContextF-Comb","ContextC-Char","ContextC-Word","ContextC-Comb"],"range":["#0000ff","#0000ff","#0000ff","#00ff00","#00ff00","#00ff00","#ff0000","#ff0000","#ff0000"]},"legend":null}
   }},
  {"data":{"name":"triL"},"mark":{"type":"point","shape":"triangle-up","filled":true,"color":"#000","size":150,"opacity":1},
   "encoding":{"x":{"field":"e","type":"quantitative","axis":null},"y":{"field":"v","type":"quantitative","axis":null}}}
 ],
 "resolve":{"axis":{"x":"independent","y":"independent"}}
},
{
 "width":419,"height":295,
 "title":{"text":"(b) Testing Accuracy","orient":"bottom","anchor":"middle","dx":-24,"offset":28,"font":"Liberation Serif","fontSize":31,"fontWeight":"normal","color":"#000"},
 "layer":[
  {"data":{"name":"acc"},"mark":{"type":"line","strokeWidth":1.5},
   "encoding":{
    "x":{"field":"e","type":"quantitative","scale":{"domain":[1,30],"nice":false,"zero":false},"axis":{"orient":"bottom","values":[5,10,15,20,25,30],"title":"Epoch","grid":false,"tickSize":-5,"labelPadding":6,"titlePadding":1}},
    "y":{"field":"v","type":"quantitative","scale":{"domain":[0.32,0.67],"nice":false,"zero":false},"axis":{"orient":"left","values":[0.35,0.4,0.45,0.5,0.55,0.6,0.65],"title":"Testing Accuracy","grid":true,"tickSize":-5,"labelPadding":12,"titlePadding":12}},
    "color":{"field":"s","type":"nominal","scale":{"domain":["Basic-Char","Basic-Word","Basic-Comb","ContextF-Char","ContextF-Word","ContextF-Comb","ContextC-Char","ContextC-Word","ContextC-Comb"],"range":["#0000ff","#0000ff","#0000ff","#00ff00","#00ff00","#00ff00","#ff0000","#ff0000","#ff0000"]},
     "legend":{"orient":"none","legendX":379,"legendY":168,
      "encode":{"symbols":{"update":{"shape":{"signal":"indexof(datum.value,'Char')>=0 ? 'M-4.3,0H4.3M0.9,-0.8V0.8' : indexof(datum.value,'Word')>=0 ? 'M-4.3,0H4.3M0.1,-0.8L1.7,0.8M0.1,0.8L1.7,-0.8' : 'M-4.3,0H4.3M0.1,-0.8H1.7V0.8H0.1Z'"},"fill":{"value":"transparent"}}},
       "labels":{"update":{"x":{"value":-17},"align":{"value":"right"}}}}}}
   }},
  {"data":{"name":"acc"},"mark":{"type":"point","filled":false,"strokeWidth":1.5,"size":81,"opacity":1},
   "encoding":{
    "x":{"field":"e","type":"quantitative","scale":{"domain":[1,30],"nice":false,"zero":false},"axis":{"orient":"top","values":[5,10,15,20,25,30],"labels":false,"title":null,"grid":false,"tickSize":-5}},
    "y":{"field":"v","type":"quantitative","scale":{"domain":[0.32,0.67],"nice":false,"zero":false},"axis":{"orient":"right","values":[0.35,0.4,0.45,0.5,0.55,0.6,0.65],"labels":false,"title":null,"grid":false,"tickSize":-5}},
    "shape":{"field":"m","type":"nominal","scale":{"domain":["Char","Word","Comb"],"range":["M-1,0H1M0,-1V1","M-0.9,-0.9L0.9,0.9M-0.9,0.9L0.9,-0.9","M-1,-1H1V1H-1Z"]},"legend":null},
    "stroke":{"field":"s","type":"nominal","scale":{"domain":["Basic-Char","Basic-Word","Basic-Comb","ContextF-Char","ContextF-Word","ContextF-Comb","ContextC-Char","ContextC-Word","ContextC-Comb"],"range":["#0000ff","#0000ff","#0000ff","#00ff00","#00ff00","#00ff00","#ff0000","#ff0000","#ff0000"]},"legend":null}
   }},
  {"data":{"name":"triA"},"mark":{"type":"point","shape":"triangle-up","filled":true,"color":"#000","size":150,"opacity":1},
   "encoding":{"x":{"field":"e","type":"quantitative","axis":null},"y":{"field":"v","type":"quantitative","axis":null}}}
 ],
 "resolve":{"axis":{"x":"independent","y":"independent"}}
}
]
}
